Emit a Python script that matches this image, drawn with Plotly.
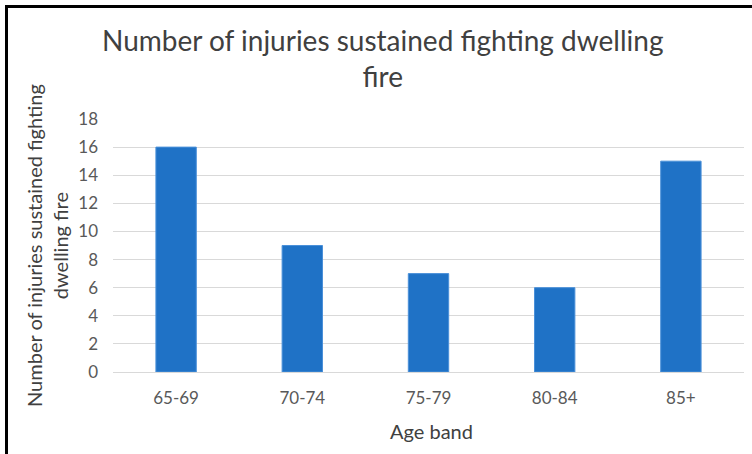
import plotly.graph_objects as go

age_bands = ["65-69", "70-74", "75-79", "80-84", "85+"]
injuries = [16, 9, 7, 6, 15]
y_ticks = list(range(0, 20, 2))

W, H = 752, 454
L, R, T, B = 113, 8, 119, 82
pw, ph = W - L - R, H - T - B


def px(x):
    return (x - L) / pw


def py(y):
    return (H - B - y) / ph


FONT = "Lato, 'Open Sans', sans-serif"
GREY = "#595959"

fig = go.Figure(go.Bar(
    x=age_bands,
    y=injuries,
    marker={"color": "#1f72c6", "line": {"color": "#4a90d9", "width": 1}},
    width=0.32,
    hoverinfo="x+y",
))

frame = {"color": "black", "width": 3}

fig.update_layout(
    width=W,
    height=H,
    margin={"l": L, "r": R, "t": T, "b": B},
    paper_bgcolor="white",
    plot_bgcolor="white",
    showlegend=False,
    font={"family": FONT, "color": GREY},
    xaxis={
        "showgrid": False,
        "showline": False,
        "ticks": "",
        "ticklabelstandoff": 14,
        "tickfont": {"size": 17, "color": GREY},
    },
    yaxis={
        "range": [0, 18],
        "tickvals": y_ticks,
        "showgrid": True,
        "gridcolor": "#d9d9d9",
        "gridwidth": 1,
        "zeroline": True,
        "zerolinecolor": "#d9d9d9",
        "zerolinewidth": 1,
        "ticks": "",
        "ticklabelstandoff": 14,
        "tickfont": {"size": 17, "color": GREY},
    },
    annotations=[
        {
            "text": "Number of injuries sustained fighting dwelling<br>fire",
            "x": px(382), "y": py(58), "xref": "paper", "yref": "paper",
            "showarrow": False, "xanchor": "center", "yanchor": "middle",
            "font": {"size": 28, "color": "#404040", "family": FONT},
        },
        {
            "text": "Number of injuries sustained fighting<br>dwelling fire",
            "x": px(47), "y": py(246), "xref": "paper", "yref": "paper",
            "showarrow": False, "textangle": -90, "xanchor": "center", "yanchor": "middle",
            "font": {"size": 20, "color": "#404040", "family": FONT},
        },
        {
            "text": "Age band",
            "x": px(431), "y": py(431), "xref": "paper", "yref": "paper",
            "showarrow": False, "xanchor": "center", "yanchor": "middle",
            "font": {"size": 20, "color": "#404040", "family": FONT},
        },
    ],
    shapes=[
        # chart frame: only top and left edges fall inside the picture
        {"type": "line", "xref": "paper", "yref": "paper",
         "x0": px(6.5), "x1": px(W), "y0": py(6.5), "y1": py(6.5), "line": frame},
        {"type": "line", "xref": "paper", "yref": "paper",
         "x0": px(6.5), "x1": px(6.5), "y0": py(5), "y1": py(H), "line": frame},
    ],
)

fig.write_html(
    "out.html",
    config={"displayModeBar": False},
    post_script="document.body.style.margin = '0';",
)
